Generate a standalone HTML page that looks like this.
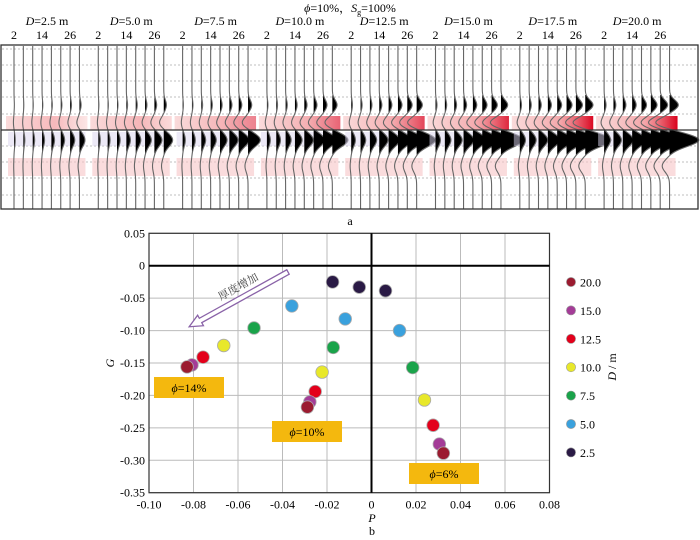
<!DOCTYPE html>
<html><head><meta charset="utf-8">
<style>
html,body{margin:0;padding:0;background:#fff;}
svg{display:block;font-family:"Liberation Serif","Noto Serif CJK SC",serif;}
</style></head>
<body>
<svg id="fig" width="700" height="540" viewBox="0 0 700 540">
  <g id="seis"></g>
  <g id="chart"></g>
</svg>
<script>
// ---- chart data ----
const depthLabels = ["20.0","15.0","12.5","10.0","7.5","5.0","2.5"];
const depthColors = ["#9b1b30","#a43c97","#e3001b","#e8e82a","#1aa34a","#3aa1dd","#2a1a45"];
const phi14P = [-0.0829,-0.0807,-0.0757,-0.0664,-0.0528,-0.0358,-0.0175];
const phi14G = [-0.156,-0.153,-0.141,-0.123,-0.096,-0.062,-0.025];
const phi10P = [-0.0288,-0.0277,-0.0253,-0.0222,-0.0172,-0.0118,-0.0055];
const phi10G = [-0.218,-0.210,-0.194,-0.164,-0.126,-0.082,-0.033];
const phi6P  = [0.0323,0.0305,0.0277,0.0238,0.0185,0.0126,0.0063];
const phi6G  = [-0.289,-0.275,-0.246,-0.207,-0.157,-0.100,-0.0386];
const xTicks = [-0.10,-0.08,-0.06,-0.04,-0.02,0,0.02,0.04,0.06,0.08];
const xTickLabels = ["-0.10","-0.08","-0.06","-0.04","-0.02","0","0.02","0.04","0.06","0.08"];
const yTicks = [0.05,0,-0.05,-0.10,-0.15,-0.20,-0.25,-0.30,-0.35];
const yTickLabels = ["0.05","0","-0.05","-0.10","-0.15","-0.20","-0.25","-0.30","-0.35"];
const panelLabels = ["D=2.5 m","D=5.0 m","D=7.5 m","D=10.0 m","D=12.5 m","D=15.0 m","D=17.5 m","D=20.0 m"];

const NS="http://www.w3.org/2000/svg";
function mk(tag,attrs,parent,text){const e=document.createElementNS(NS,tag);for(const k in attrs)e.setAttribute(k,attrs[k]);if(text!==undefined)e.textContent=text;parent.appendChild(e);return e;}

// ---- seismic panel ----
const S=document.getElementById('seis');
const defs=mk('defs',{},S);
for(let p=0;p<8;p++){
  const g=mk('linearGradient',{id:'rg'+p,x1:0,x2:1,y1:0,y2:0},defs);
  const inten=Math.min(1,0.25+p*0.12);
  mk('stop',{offset:'0','stop-color':'#f4b6b6','stop-opacity':0.5},g);
  mk('stop',{offset:'0.6','stop-color':'#ef7f84','stop-opacity':0.5+inten*0.2},g);
  mk('stop',{offset:'1','stop-color':p<2?'#f29a9a':'#d9001b','stop-opacity':inten},g);
}
const hy=[49,65,81,97,114,146,162,178,195];
hy.forEach(y=>{const l=mk('line',{x1:2,x2:697,y1:y,y2:y,stroke:'#aaa','stroke-width':0.8,'stroke-dasharray':'2,2'},S);

});
function gau(d,w){return Math.exp(-(d*d)/(2*w*w));}
function f(y){return 1.0*gau(y-140,6.5)-0.5*gau(y-123,5)+0.3*gau(y-105,5)-0.25*gau(y-166,6);}
for(let p=0;p<8;p++){
  const px=14+p*84.3;
  const r=mk('rect',{x:px-8,y:116,width:9.35*7+16,height:14,fill:'url(#rg'+p+')'},S);
  
  
  const r2=mk('rect',{x:px-6,y:158,width:9.35*7+12,height:18,fill:'#f6c4c6',opacity:0.6},S);
  
  
  mk('rect',{x:px-6,y:132,width:9.35*7+12,height:14,fill:'#d9d4ee',opacity:0.5},S);
  const base=5.5+p*3.4;
  for(let i=0;i<8;i++){
    const x0=px+i*9.35;
    const amp=base*(0.22+0.78*Math.pow(i/7,1.4));
    let d='',fill='M'+x0+' 95 ';
    for(let y=46;y<=209;y+=1){const x=x0+amp*f(y);d+=(y==46?'M':'L')+x.toFixed(2)+' '+y+' ';}
    for(let y=95;y<=160;y+=1){const v=Math.max(0,f(y));fill+='L'+(x0+amp*v).toFixed(2)+' '+y+' ';}
    fill+='L'+x0+' 160Z';
    const fp=mk('path',{d:fill,fill:'#000'},S);
    
    
    const tp=mk('path',{d:d,fill:'none',stroke:'#666','stroke-width':1.1},S);
    
    
  }
  const lab=mk('text',{x:px+33,y:25,'text-anchor':'middle','font-size':12},S);
  
  
  mk('tspan',{'font-style':'italic'},lab,'D');
  mk('tspan',{},lab,panelLabels[p].slice(1));
  ["2","14","26"].forEach((t,k)=>{const o=mk('text',{x:px+k*28.05,y:39,'text-anchor':'middle','font-size':12},S,t);
  
  });
}
mk('line',{x1:1,x2:698,y1:130,y2:130,stroke:'#333','stroke-width':1.3},S);
const box=mk('rect',{x:1,y:45,width:697,height:164,fill:'none',stroke:'#333','stroke-width':1.3},S);


const tt=mk('text',{x:350,y:12,'text-anchor':'middle','font-size':12},S);


mk('tspan',{'font-style':'italic'},tt,'ϕ');
mk('tspan',{},tt,'=10%，');
mk('tspan',{'font-style':'italic'},tt,'S');
mk('tspan',{'font-size':8,dy:3},tt,'g');
mk('tspan',{dy:-3},tt,'=100%');
const la=mk('text',{x:350,y:225,'text-anchor':'middle','font-size':12},S,'a');



// ---- crossplot ----
const C=document.getElementById('chart');
const L=149,R=549.5,T=233.3,B=492.7;
const xmin=-0.10,xmax=0.08,ymin=-0.35,ymax=0.05;
function X(v){return L+(v-xmin)/(xmax-xmin)*(R-L);}
function Y(v){return B-(v-ymin)/(ymax-ymin)*(B-T);}
xTicks.forEach((v,i)=>{
  const l=mk('line',{x1:X(v),x2:X(v),y1:T,y2:B,stroke:'#bbb','stroke-width':1},C);
  
  
  const t=mk('text',{x:X(v),y:B+16,'text-anchor':'middle','font-size':12},C,xTickLabels[i]);
  
  
});
yTicks.forEach((v,i)=>{
  const l=mk('line',{x1:L,x2:R,y1:Y(v),y2:Y(v),stroke:'#bbb','stroke-width':1},C);
  
  
  const t=mk('text',{x:L-4,y:Y(v)+4,'text-anchor':'end','font-size':12},C,yTickLabels[i]);
  
  
});
mk('rect',{x:L,y:T,width:R-L,height:B-T,fill:'none',stroke:'#333','stroke-width':1.2},C);
const zx=mk('line',{x1:X(0),x2:X(0),y1:T,y2:B,stroke:'#000','stroke-width':2},C);


const zy=mk('line',{x1:L,x2:R,y1:Y(0),y2:Y(0),stroke:'#000','stroke-width':2},C);



// labels boxes
[[154,377,'14'],[272,421,'10'],[409,463,'6']].forEach(b=>{
  const r=mk('rect',{x:b[0],y:b[1],width:70,height:21,fill:'#f4b80e'},C);
  
  
  const t=mk('text',{x:b[0]+35,y:b[1]+15,'text-anchor':'middle','font-size':12},C);
  
  
  mk('tspan',{'font-style':'italic'},t,'ϕ');
  mk('tspan',{},t,'='+b[2]+'%');
});
// arrow
const arr=mk('g',{transform:'translate(288,272) rotate(151)'},C);


mk('path',{d:'M0 -2.5 L100 -2.5 L100 -6 L113 0 L100 6 L100 2.5 L0 2.5 Z',fill:'#fff',stroke:'#8a63a8','stroke-width':1.3},arr);
const at=mk('text',{x:0,y:0,'font-size':11,transform:'translate(240,290) rotate(-29)','text-anchor':'middle',fill:'#444'},C,'厚度增加');



// points
[[phi14P,phi14G],[phi10P,phi10G],[phi6P,phi6G]].forEach(s=>{
  for(let i=s[0].length-1;i>=0;i--){
    const c=mk('circle',{cx:X(s[0][i]),cy:Y(s[1][i]),r:6.3,fill:depthColors[i],stroke:'#aaa','stroke-width':0.8},C);
    
    
  }
});
// legend
depthLabels.forEach((d,i)=>{
  const y=282+i*28.4;
  const c=mk('circle',{cx:571,cy:y,r:4.6,fill:depthColors[i],stroke:'#999','stroke-width':0.6},C);
  
  
  const t=mk('text',{x:580,y:y+4.5,'font-size':12},C,d);
  
  
});
const dm=mk('text',{x:0,y:0,'font-size':12,transform:'translate(616,367) rotate(-90)','text-anchor':'middle'},C);


mk('tspan',{'font-style':'italic'},dm,'D');
mk('tspan',{},dm,' / m');
const gy=mk('text',{x:0,y:0,'font-size':12,'font-style':'italic',transform:'translate(114,363) rotate(-90)','text-anchor':'middle'},C,'G');


const px_=mk('text',{x:372,y:522,'font-size':12,'font-style':'italic','text-anchor':'middle'},C,'P');


const lb=mk('text',{x:372,y:535,'font-size':12,'text-anchor':'middle'},C,'b');


</script>
</body></html>
